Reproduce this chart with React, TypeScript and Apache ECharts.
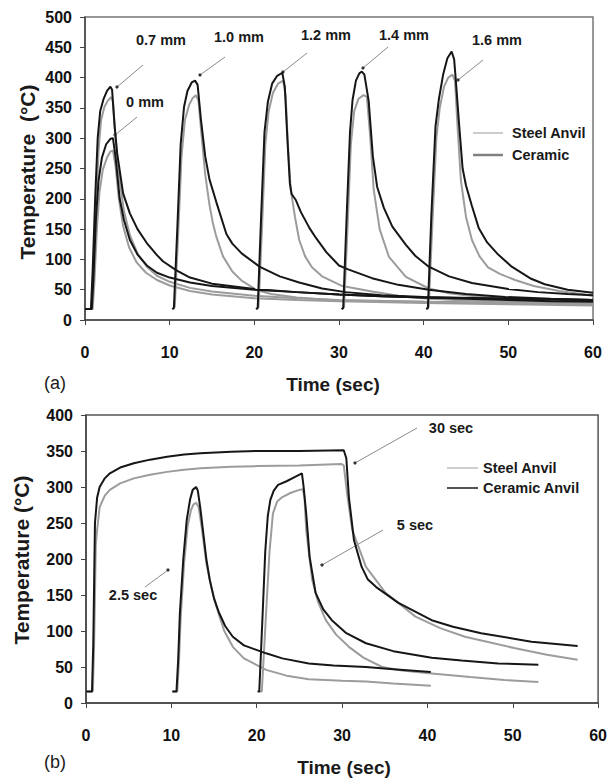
import React, { useEffect, useRef } from "react";
import * as echarts from "echarts";

type Pt = [number, number];

// ---------- axis ticks ----------
const xTicksA = [0, 10, 20, 30, 40, 50, 60];
const yTicksA = [0, 50, 100, 150, 200, 250, 300, 350, 400, 450, 500];
const xTicksB = [0, 10, 20, 30, 40, 50, 60];
const yTicksB = [0, 50, 100, 150, 200, 250, 300, 350, 400];

// ---------- chart (a): gap between anvils ----------
const gapLabels = ["0 mm", "0.7 mm", "1.0 mm", "1.2 mm", "1.4 mm", "1.6 mm"];

const ceramic0mm: Pt[] = [[0,18],[0.8,18],[1.0,70],[1.3,170],[1.6,230],[2.0,268],[2.5,290],[3.0,299],[3.3,300],[3.6,270],[4.1,200],[4.6,165],[5.3,132],[6.2,108],[7.3,90],[8.5,78],[10,70],[12.4,62],[15,56],[20,50],[25,46],[30,42],[35,39],[40,37],[45,35],[50,33],[55,31],[60,30]];
const steel0mm: Pt[] = [[0,18],[0.9,18],[1.1,60],[1.4,150],[1.7,210],[2.1,248],[2.6,268],[3.0,278],[3.3,280],[3.6,255],[4.0,200],[4.5,155],[5.2,120],[6.1,95],[7.2,78],[8.5,66],[10,57],[12.4,48],[15,42],[20,36],[25,33],[30,31],[40,28],[50,26],[60,24]];
const ceramic07: Pt[] = [[0,18],[0.7,18],[0.9,80],[1.2,200],[1.5,300],[1.8,345],[2.2,365],[2.6,378],[3.0,385],[3.2,380],[3.5,320],[3.8,275],[4.5,209],[5.3,176],[6.2,150],[7.3,127],[8.5,107],[9.2,97],[10.8,82],[12.4,70],[15,60],[20,51],[25,46],[30,42],[35,39],[40,37],[50,35],[60,33]];
const steel07: Pt[] = [[0,18],[0.8,18],[1.0,70],[1.3,180],[1.6,280],[1.9,330],[2.3,352],[2.7,362],[3.1,368],[3.3,360],[3.6,300],[4.0,240],[4.6,180],[5.3,140],[6.2,110],[7.3,88],[8.5,73],[10,63],[12.4,53],[15,47],[20,40],[25,36],[30,33],[40,30],[50,28],[60,26]];
const ceramic10: Pt[] = [[10.3,18],[10.5,20],[10.9,150],[11.3,290],[11.7,352],[12.1,378],[12.6,392],[13.0,395],[13.3,388],[13.7,330],[14.2,270],[14.7,232],[15.5,195],[16.7,142],[17.4,126],[18.5,110],[20.6,88],[23,72],[25.3,62],[28,52],[30.8,46],[35,41],[40,38],[50,35],[60,33]];
const steel10: Pt[] = [[10.4,18],[10.6,22],[11.0,140],[11.4,270],[11.8,330],[12.3,355],[12.7,366],[13.1,371],[13.4,362],[13.8,300],[14.2,240],[14.7,190],[15.1,160],[15.5,138],[16.3,105],[17.4,80],[18.5,65],[20.2,50],[22,43],[25,37],[30,32],[40,30],[50,28],[60,27]];
const ceramic12: Pt[] = [[20.2,18],[20.4,20],[20.8,170],[21.2,310],[21.6,360],[22.1,390],[22.7,403],[23.3,408],[23.6,385],[23.9,300],[24.2,225],[24.4,208],[24.9,198],[25.5,178],[26.5,152],[27.3,135],[28.5,112],[30,90],[31,84],[33.9,69],[37,58],[40.6,50],[45,43],[49.6,38],[55,35],[60,33]];
const steel12: Pt[] = [[20.3,18],[20.5,22],[20.9,150],[21.3,290],[21.7,345],[22.2,375],[22.8,390],[23.4,395],[23.7,370],[24.0,280],[24.3,215],[24.8,170],[25.3,132],[26,105],[26.8,87],[28,72],[30.4,56],[33.9,47],[37,40],[40.6,35],[45,32],[50,30],[60,27]];
const ceramic14: Pt[] = [[30.3,18],[30.5,20],[30.9,170],[31.3,310],[31.6,363],[32.0,395],[32.4,407],[32.7,410],[33.0,405],[33.5,362],[34.0,270],[34.5,220],[35.3,185],[36.3,154],[37.9,124],[39,106],[40.6,88],[43,72],[45.7,61],[50,51],[53.5,46],[57,43],[60,41]];
const steel14: Pt[] = [[30.4,18],[30.6,22],[31.0,150],[31.4,290],[31.8,345],[32.3,365],[32.9,371],[33.3,368],[33.7,300],[34.1,215],[34.8,150],[35.9,104],[37.9,71],[40.6,52],[43,44],[46,39],[50,35],[55,32],[60,30]];
const ceramic16: Pt[] = [[40.3,18],[40.5,20],[40.9,170],[41.4,320],[41.8,365],[42.3,405],[42.8,432],[43.3,443],[43.6,430],[43.8,395],[44.2,320],[44.6,250],[45.0,222],[45.7,188],[46.5,152],[47.5,128],[48.8,108],[50.4,88],[52.7,68],[54.3,59],[57,50],[60,45]];
const steel16: Pt[] = [[40.4,18],[40.6,22],[41.0,150],[41.5,300],[41.9,350],[42.4,385],[42.9,400],[43.4,405],[43.7,395],[44.0,320],[44.4,230],[45.0,170],[45.7,132],[46.6,105],[47.6,87],[49,76],[50.8,66],[53,56],[56,48],[60,40]];

// ---------- chart (b): hold time ----------
const holdLabels = ["2.5 sec", "5 sec", "30 sec"];

const ceramic25s: Pt[] = [[10.1,16],[10.6,16],[10.8,60],[11.0,125],[11.4,200],[11.8,254],[12.2,283],[12.5,296],[12.9,300],[13.1,295],[13.4,270],[13.7,240],[14.1,200],[14.5,171],[15.0,145],[15.6,125],[16.3,107],[17.2,92],[18.5,80],[21.1,69],[23,62],[26.1,55],[29,52],[32.8,50],[36,47],[40.4,43]];
const steel25s: Pt[] = [[10.2,16],[10.7,16],[10.9,60],[11.1,120],[11.5,195],[11.9,245],[12.3,268],[12.6,276],[12.9,278],[13.2,272],[13.6,240],[14.1,194],[14.7,160],[15.3,133],[16.2,100],[17.2,78],[18.5,62],[21.1,46],[23.5,38],[26.1,33],[30,31],[32.8,30],[36,27],[40.4,24]];
const ceramic5s: Pt[] = [[20.1,16],[20.3,16],[20.7,125],[21.0,210],[21.3,260],[21.6,282],[22.0,295],[22.5,303],[23.5,308],[24.5,314],[25.3,319],[25.5,300],[25.8,263],[26.2,203],[26.9,153],[27.8,130],[28.8,115],[30.5,97],[32.8,83],[36,72],[40.5,63],[44,59],[48.3,55],[53,53]];
const steel5s: Pt[] = [[20.3,16],[20.6,16],[21.1,125],[21.5,210],[21.9,263],[22.4,280],[23,286],[24,292],[25.0,296],[25.4,297],[25.6,285],[25.8,240],[26.5,171],[27.2,140],[28.1,115],[29.3,95],[30.8,78],[32.5,63],[34.7,50],[37,45],[40.5,41],[45,36],[49,32],[53,29]];
const ceramic30s: Pt[] = [[0,16],[0.7,16],[0.85,80],[1.05,250],[1.3,285],[1.6,300],[2.2,312],[2.8,319],[4,327],[5.6,333],[7.5,338],[9.5,342],[11.5,345],[13.4,347],[17,349],[20,350],[25,350],[30.2,351],[30.5,340],[30.8,286],[31.4,226],[32.3,189],[33,172],[34,161],[36.6,139],[40.5,115],[43,106],[46.3,97],[52.2,85],[57.6,79]];
const steel30s: Pt[] = [[0,16],[0.8,16],[0.95,80],[1.15,220],[1.3,240],[1.6,272],[2.2,288],[2.8,296],[4,305],[5.6,312],[7.5,317],[9.5,321],[11.5,324],[13.4,326],[17,328],[20,329],[25,330],[29.9,332],[30.2,330],[30.6,290],[31.2,240],[32.8,189],[35.1,153],[38.6,120],[41.5,104],[44.4,92],[50.3,76],[54,67],[57.6,60]];

const legendA = ["Steel Anvil", "Ceramic"];
const legendB = ["Steel Anvil", "Ceramic Anvil"];

const FONT = "'Liberation Sans', Arial, Helvetica, sans-serif";
const BLACK = "#161616";
const GRAY = "#9c9c9c";

function text(t: string, x: number, y: number, size: number, opt: any = {}) {
  const align = opt.align || "center";
  return {
    type: "text",
    x,
    y,
    rotation: opt.rotation || 0,
    silent: true,
    style: {
      text: t,
      fill: opt.color || "#1a1a1a",
      fontSize: size,
      fontWeight: opt.weight || "bold",
      fontFamily: FONT,
      align,
      textAlign: align,
      verticalAlign: "middle",
      textVerticalAlign: "middle",
    },
  };
}

function arrow(x1: number, y1: number, x2: number, y2: number) {
  return [
    { type: "line", silent: true, shape: { x1, y1, x2, y2 }, style: { stroke: "#8a8a8a", lineWidth: 1 } },
    { type: "circle", silent: true, shape: { cx: x2, cy: y2, r: 1.6 }, style: { fill: "#333" } },
  ];
}

function legendLine(x1: number, x2: number, y: number, color: string, w: number) {
  return { type: "line", silent: true, shape: { x1, y1: y, x2, y2: y }, style: { stroke: color, lineWidth: w } };
}

function axisCommon(ticks: number[], gridIndex: number, margin: number) {
  return {
    type: "value",
    gridIndex,
    min: ticks[0],
    max: ticks[ticks.length - 1],
    interval: ticks[1] - ticks[0],
    axisLine: { show: true, lineStyle: { color: "#444", width: 1.5 } },
    axisTick: { show: true, length: 5, lineStyle: { color: "#444", width: 1 } },
    splitLine: { show: false },
    axisLabel: { color: "#111", fontSize: 16, fontWeight: "bold", fontFamily: FONT, margin },
  };
}

function lineSeries(data: Pt[], color: string, xi: number, name: string) {
  return {
    type: "line",
    name,
    xAxisIndex: xi,
    yAxisIndex: xi,
    data,
    showSymbol: false,
    symbol: "none",
    silent: true,
    lineStyle: { color, width: 2 },
    z: color === BLACK ? 3 : 2,
  };
}

export default function App() {
  const ref = useRef<HTMLDivElement>(null);
  useEffect(() => {
    if (!ref.current) return;
    const chart = echarts.init(ref.current, undefined, { renderer: "svg" });
    const pairsA: [Pt[], Pt[], string][] = [
      [steel0mm, ceramic0mm, gapLabels[0]],
      [steel07, ceramic07, gapLabels[1]],
      [steel10, ceramic10, gapLabels[2]],
      [steel12, ceramic12, gapLabels[3]],
      [steel14, ceramic14, gapLabels[4]],
      [steel16, ceramic16, gapLabels[5]],
    ];
    const pairsB: [Pt[], Pt[], string][] = [
      [steel25s, ceramic25s, holdLabels[0]],
      [steel5s, ceramic5s, holdLabels[1]],
      [steel30s, ceramic30s, holdLabels[2]],
    ];
    const series: any[] = [];
    pairsA.forEach(([s, c, n]) => series.push(lineSeries(s, GRAY, 0, "Steel " + n)));
    pairsA.forEach(([s, c, n]) => series.push(lineSeries(c, BLACK, 0, "Ceramic " + n)));
    pairsB.forEach(([s, c, n]) => series.push(lineSeries(s, GRAY, 1, "Steel " + n)));
    pairsB.forEach(([s, c, n]) => series.push(lineSeries(c, BLACK, 1, "Ceramic " + n)));

    const graphic: any[] = [
      // chart (a) texts
      text("Temperature  (°C)", 27, 172, 21, { rotation: Math.PI / 2 }),
      text("Time (sec)", 333, 384, 19),
      text("(a)", 55, 383, 18, { weight: "normal" }),
      text(gapLabels[1], 161, 40, 14.5),
      text(gapLabels[0], 145, 102, 14.5),
      text(gapLabels[2], 239, 37, 14.5),
      text(gapLabels[3], 326, 35, 14.5),
      text(gapLabels[4], 404, 35, 14.5),
      text(gapLabels[5], 497, 40, 14.5),
      ...arrow(143, 65, 117, 87),
      ...arrow(137, 117, 115, 135),
      ...arrow(225, 57, 200, 75),
      ...arrow(307, 53, 283, 72),
      ...arrow(388, 47, 363, 68),
      ...arrow(483, 60, 458, 80),
      legendLine(473, 503, 133, "#bdbdbd", 1.5),
      legendLine(473, 503, 155, "#808080", 2.5),
      text(legendA[0], 512, 133, 14.5, { align: "left" }),
      text(legendA[1], 512, 155, 14.5, { align: "left" }),
      // chart (b) texts
      text("Temperature (°C)", 21, 560, 21, { rotation: Math.PI / 2 }),
      text("Time (sec)", 344, 767, 19),
      text("(b)", 55, 762, 18, { weight: "normal" }),
      text(holdLabels[2], 451, 428, 14.5),
      text(holdLabels[1], 415, 525, 14.5),
      text(holdLabels[0], 133, 595, 14.5),
      ...arrow(417, 428, 355, 463),
      ...arrow(383, 530, 322, 565),
      ...arrow(145, 587, 168, 570),
      legendLine(447, 478, 468, "#bdbdbd", 1.5),
      legendLine(447, 478, 488, "#1a1a1a", 1.5),
      text(legendB[0], 483, 468, 14.5, { align: "left" }),
      text(legendB[1], 483, 488, 14.5, { align: "left" }),
    ];

    chart.setOption({
      animation: false,
      backgroundColor: "#ffffff",
      grid: [
        { left: 85, top: 17, width: 508, height: 303, show: true, borderColor: "#777", borderWidth: 1.5, containLabel: false },
        { left: 86, top: 415, width: 514, height: 288, show: true, borderColor: "#555", borderWidth: 1.5, containLabel: false },
      ],
      xAxis: [axisCommon(xTicksA, 0, 24), axisCommon(xTicksB, 1, 24)],
      yAxis: [axisCommon(yTicksA, 0, 13), axisCommon(yTicksB, 1, 13)],
      series,
      graphic,
    });
    return () => chart.dispose();
  }, []);
  return (
    <div
      ref={ref}
      style={{ position: "absolute", left: 0, top: 0, width: 610, height: 778, background: "#fff" }}
    />
  );
}
